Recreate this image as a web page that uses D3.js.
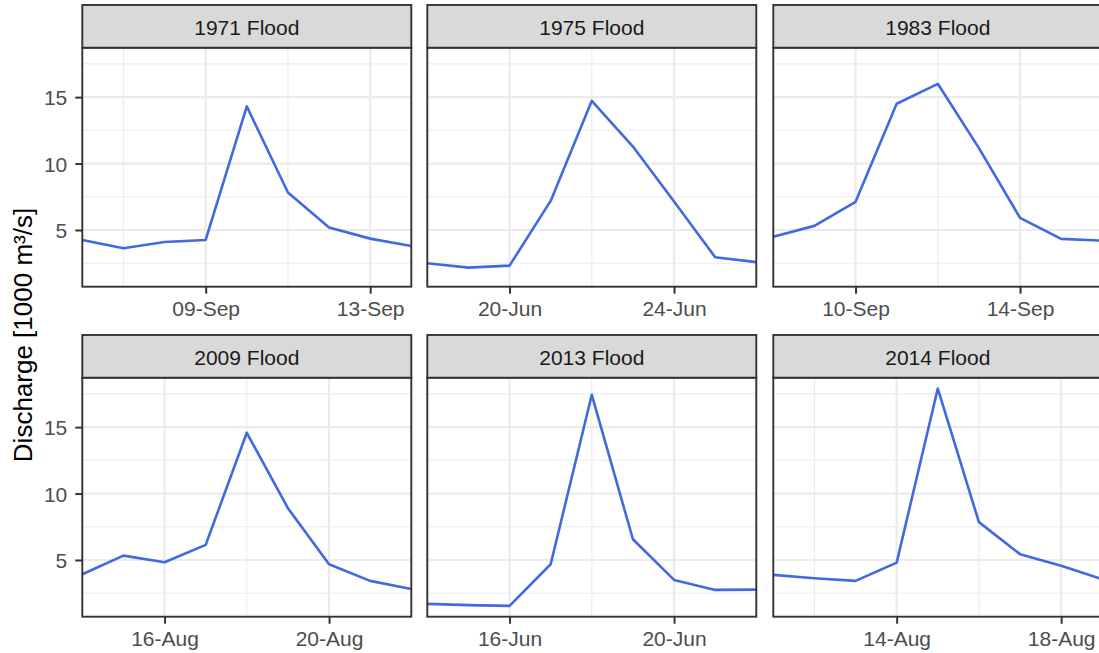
<!DOCTYPE html>
<html>
<head>
<meta charset="utf-8">
<script src="https://cdn.jsdelivr.net/npm/d3@7"></script>
<style>
  html, body { margin: 0; padding: 0; background: #ffffff; overflow: hidden; }
  svg { display: block; font-family: "Liberation Sans", Arial, Helvetica, sans-serif; }
</style>
</head>
<body>
<svg id="chart" width="1099" height="653"></svg>
<script>
// Daily discharge (1000 m³/s) around each flood peak
const floodNames = ["1971 Flood", "1975 Flood", "1983 Flood", "2009 Flood", "2013 Flood", "2014 Flood"];
const firstDays  = ["1971-09-06", "1975-06-18", "1983-09-08", "2009-08-14", "2013-06-14", "2014-08-11"];

const q1971 = [4.25, 3.63, 4.10, 4.25, 14.30, 7.82, 5.18, 4.35, 3.80];
const q1975 = [2.50, 2.17, 2.32, 7.19, 14.72, 11.28, 7.14, 2.95, 2.58];
const q1983 = [4.50, 5.31, 7.12, 14.50, 16.00, 11.16, 5.91, 4.33, 4.20];
const q2009 = [3.93, 5.33, 4.83, 6.14, 14.57, 8.90, 4.68, 3.43, 2.82];
const q2013 = [1.70, 1.60, 1.55, 4.68, 17.43, 6.56, 3.50, 2.75, 2.77];
const q2014 = [3.88, 3.63, 3.43, 4.80, 17.90, 7.85, 5.44, 4.56, 3.55];

// Labelled dates on each panel's x axis
const xTickDays = [
  ["1971-09-09", "1971-09-13"],
  ["1975-06-20", "1975-06-24"],
  ["1983-09-10", "1983-09-14"],
  ["2009-08-16", "2009-08-20"],
  ["2013-06-16", "2013-06-20"],
  ["2014-08-14", "2014-08-18"]
];
const yTicks = [5, 10, 15];
const yMinorTicks = [2.5, 7.5, 12.5, 17.5];
const yTitle = "Discharge [1000 m³/s]";

const seriesValues = [q1971, q1975, q1983, q2009, q2013, q2014];
const parseDay = d3.utcParse("%Y-%m-%d");
const fmtDay = d3.utcFormat("%d-%b");

const panels = floodNames.map((name, i) => {
  const start = parseDay(firstDays[i]);
  return {
    name,
    points: seriesValues[i].map((v, k) => ({ date: d3.utcDay.offset(start, k), value: v })),
    ticks: xTickDays[i].map(parseDay)
  };
});

// Layout
const colLeft = [82.3, 427.3, 773.3];
const rowTop = [5, 335];
const panelW = 329;
const stripH = 42.7;
const plotH = 239;

const lineColor = "#4169E1";
const gridColor = "#EBEBEB";
const darkLine = "#333333";

// Shared y scale with 5% padding on the data range
const allValues = seriesValues.flat();
const yMin = d3.min(allValues), yMax = d3.max(allValues);
const pad = (yMax - yMin) * 0.05;
const y = d3.scaleLinear().domain([yMin - pad, yMax + pad]).range([plotH, 0]);

const svg = d3.select("#chart");

panels.forEach((p, i) => {
  const col = i % 3, row = Math.floor(i / 3);
  const left = colLeft[col];
  const top = rowTop[row];
  const plotTop = top + stripH;

  const x = d3.scaleUtc()
    .domain(d3.extent(p.points, d => d.date))
    .range([0, panelW]);

  // Minor x breaks halfway between labelled dates, extended one step outward
  const step = p.ticks[1] - p.ticks[0];
  const minorX = [];
  [p.ticks[0] - step, ...p.ticks.map(Number)].forEach(t => {
    const m = new Date(t + step / 2);
    if (m >= x.domain()[0] && m <= x.domain()[1]) minorX.push(m);
  });

  const g = svg.append("g").attr("transform", `translate(${left},${plotTop})`);

  g.append("rect").attr("width", panelW).attr("height", plotH).attr("fill", "#ffffff");

  // Grid
  g.append("g").selectAll("line").data(yMinorTicks).join("line")
    .attr("x1", 0).attr("x2", panelW)
    .attr("y1", d => y(d)).attr("y2", d => y(d))
    .attr("stroke", gridColor).attr("stroke-width", 1.1);
  g.append("g").selectAll("line").data(minorX).join("line")
    .attr("y1", 0).attr("y2", plotH)
    .attr("x1", d => x(d)).attr("x2", d => x(d))
    .attr("stroke", gridColor).attr("stroke-width", 1.1);
  g.append("g").selectAll("line").data(yTicks).join("line")
    .attr("x1", 0).attr("x2", panelW)
    .attr("y1", d => y(d)).attr("y2", d => y(d))
    .attr("stroke", gridColor).attr("stroke-width", 2.2);
  g.append("g").selectAll("line").data(p.ticks).join("line")
    .attr("y1", 0).attr("y2", plotH)
    .attr("x1", d => x(d)).attr("x2", d => x(d))
    .attr("stroke", gridColor).attr("stroke-width", 2.2);

  // Discharge line
  g.append("path")
    .datum(p.points)
    .attr("fill", "none")
    .attr("stroke", lineColor)
    .attr("stroke-width", 2.6)
    .attr("stroke-linejoin", "round")
    .attr("d", d3.line().x(d => x(d.date)).y(d => y(d.value)));

  // Panel border
  g.append("rect").attr("width", panelW).attr("height", plotH)
    .attr("fill", "none").attr("stroke", darkLine).attr("stroke-width", 1.9);

  // x axis
  const xAxis = g.append("g")
    .attr("transform", `translate(0,${plotH})`)
    .call(d3.axisBottom(x).tickValues(p.ticks).tickFormat(fmtDay).tickSize(7).tickPadding(7));
  xAxis.select(".domain").remove();
  xAxis.selectAll(".tick line").attr("stroke", darkLine).attr("stroke-width", 2);
  xAxis.selectAll(".tick text").attr("fill", "#4D4D4D").attr("font-size", 21);

  // y axis on the left column only
  if (col === 0) {
    const yAxis = g.append("g")
      .call(d3.axisLeft(y).tickValues(yTicks).tickSize(7).tickPadding(8));
    yAxis.select(".domain").remove();
    yAxis.selectAll(".tick line").attr("stroke", darkLine).attr("stroke-width", 2);
    yAxis.selectAll(".tick text").attr("fill", "#4D4D4D").attr("font-size", 21).attr("dy", "0.36em");
  }

  // Strip
  const s = svg.append("g").attr("transform", `translate(${left},${top})`);
  s.append("rect").attr("width", panelW).attr("height", stripH)
    .attr("fill", "#D9D9D9").attr("stroke", darkLine).attr("stroke-width", 1.9);
  s.append("text")
    .attr("x", panelW / 2).attr("y", stripH / 2 + 1)
    .attr("dy", "0.36em")
    .attr("text-anchor", "middle")
    .attr("font-size", 21)
    .attr("fill", "#1A1A1A")
    .text(p.name);
});

// y axis title
svg.append("text")
  .attr("transform", "translate(32,335) rotate(-90)")
  .attr("text-anchor", "middle")
  .attr("font-size", 26)
  .attr("fill", "#000000")
  .text(yTitle);
</script>
</body>
</html>
